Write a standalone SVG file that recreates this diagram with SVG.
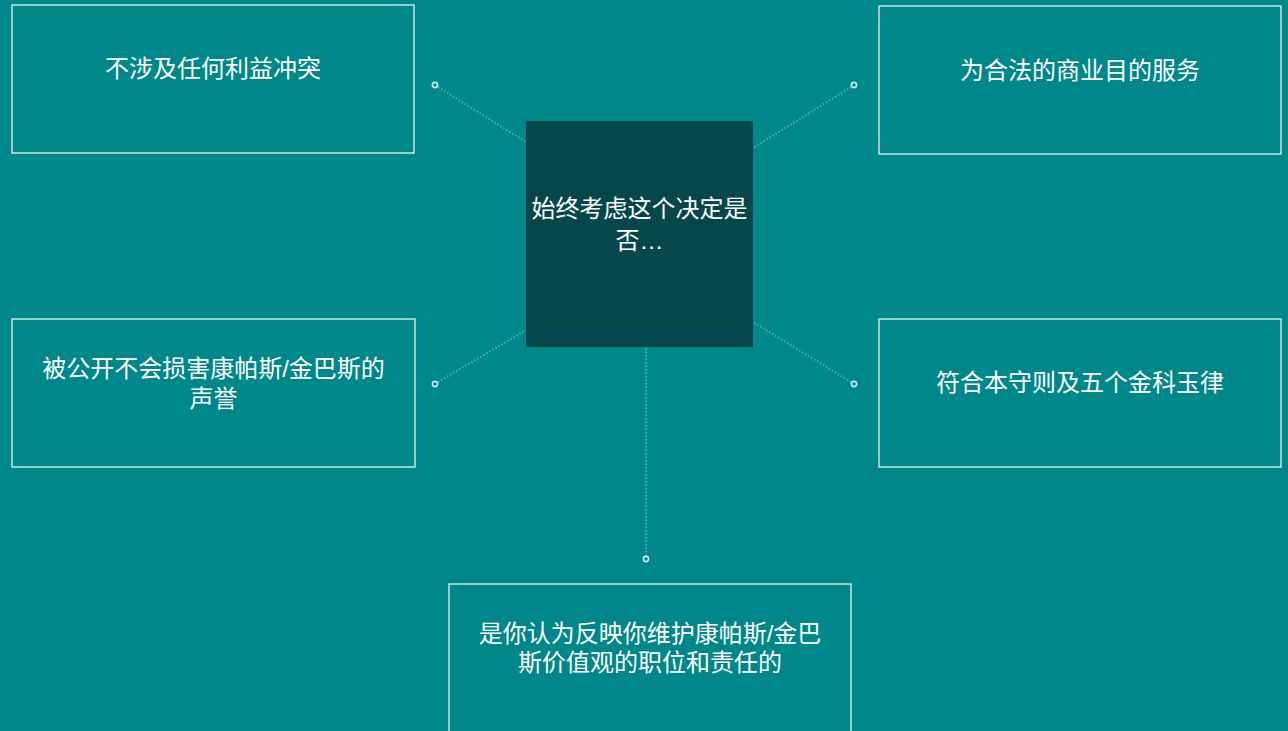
<svg xmlns="http://www.w3.org/2000/svg" width="1288" height="731" viewBox="0 0 1288 731">
<style>
.box{fill:#00878A;stroke:#E6F4F4;stroke-width:1.3}
.t{font-family:"Liberation Sans","Noto Sans CJK SC",sans-serif;font-size:24px;fill:#FFFFFF;text-anchor:middle}
.c{stroke:#5CC3C6;stroke-width:2;stroke-dasharray:1.5 2;fill:none;opacity:0.75}
.dot{fill:none;stroke:#C8ECEC;stroke-width:1.6}
</style>
<rect width="1288" height="731" fill="#00878A"/>
<g id="connectors">
<line class="c" x1="438" y1="87" x2="526" y2="142"/>
<line class="c" x1="851" y1="87" x2="753" y2="148"/>
<line class="c" x1="438" y1="382" x2="526" y2="330"/>
<line class="c" x1="851" y1="382" x2="753" y2="322"/>
<line class="c" x1="646" y1="556" x2="646" y2="348"/>
<circle class="dot" cx="435" cy="85" r="2.6"/>
<circle class="dot" cx="854" cy="85" r="2.6"/>
<circle class="dot" cx="435" cy="384" r="2.6"/>
<circle class="dot" cx="854" cy="384" r="2.6"/>
<circle class="dot" cx="646" cy="559" r="2.6"/>
</g>
<g id="center">
<rect x="526" y="121" width="227" height="226" fill="#06474B"/>
<text class="t" x="639.5" y="217">始终考虑这个决定是</text>
<text class="t" x="639.5" y="249">否…</text>
</g>
<g id="n1">
<rect class="box" x="12" y="5" width="402" height="148"/>
<text class="t" x="213" y="77">不涉及任何利益冲突</text>
</g>
<g id="n2">
<rect class="box" x="879" y="6" width="402" height="148"/>
<text class="t" x="1080" y="79">为合法的商业目的服务</text>
</g>
<g id="n3">
<rect class="box" x="12" y="319" width="403" height="148"/>
<text class="t" x="213.5" y="377">被公开不会损害康帕斯/金巴斯的</text>
<text class="t" x="213.5" y="407">声誉</text>
</g>
<g id="n4">
<rect class="box" x="879" y="319" width="402" height="148"/>
<text class="t" x="1080" y="391">符合本守则及五个金科玉律</text>
</g>
<g id="n5">
<rect class="box" x="449" y="584" width="402" height="160"/>
<text class="t" x="650" y="642">是你认为反映你维护康帕斯/金巴</text>
<text class="t" x="650" y="671">斯价值观的职位和责任的</text>
</g>
</svg>
